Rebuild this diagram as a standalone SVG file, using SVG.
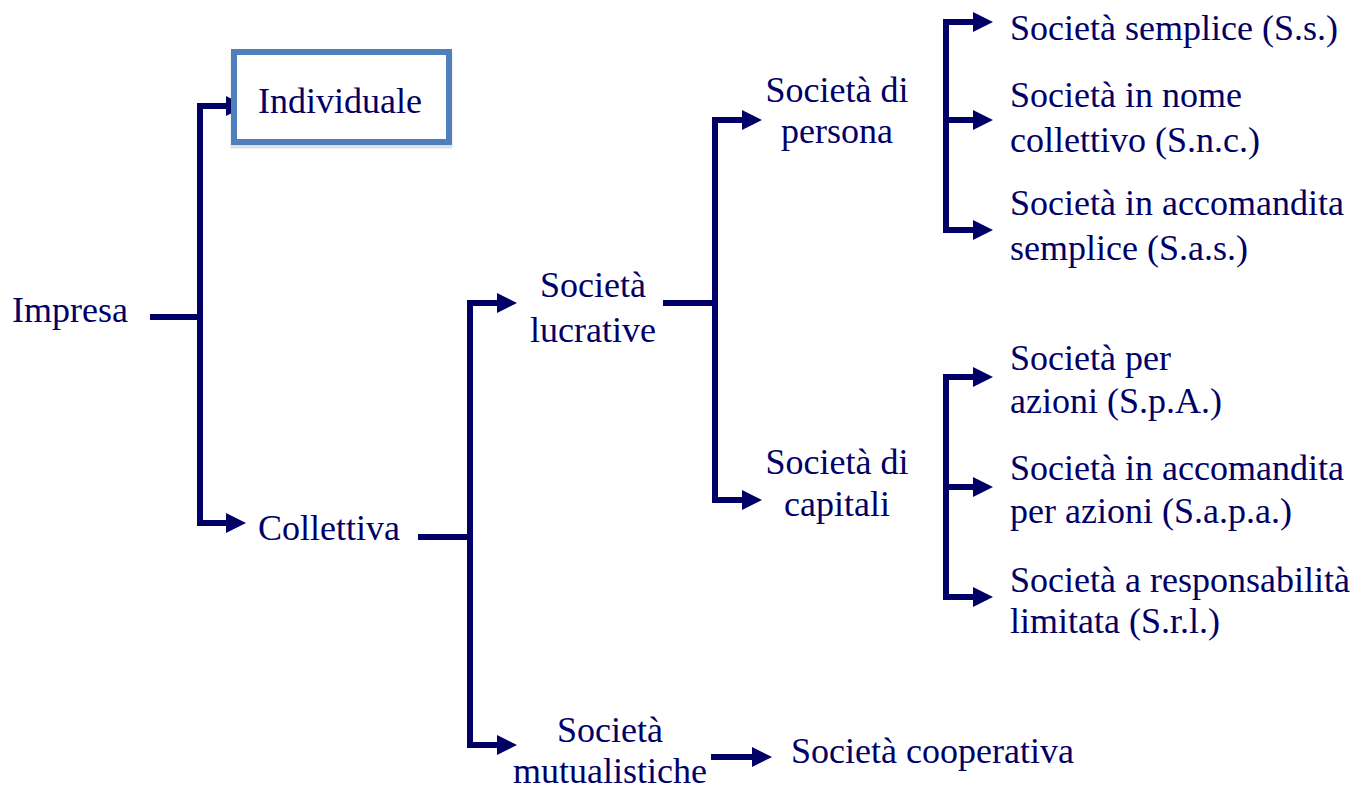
<svg xmlns="http://www.w3.org/2000/svg" width="1361" height="789" viewBox="0 0 1361 789">
  <style>
    .wire { fill: none; stroke: #000066; stroke-width: 6; stroke-linejoin: miter; }
    .tip { fill: #000066; }
  </style>
  <defs>
    <!-- right-pointing arrowhead, tip at the origin -->
    <path id="tipR" d="M-20,-10 L0,0 L-20,10 Z"/>
  </defs>
  <rect width="1361" height="789" fill="#ffffff"/>

  <!-- connectors -->
  <g id="connectors">
    <path class="wire" d="M150,317 H200"/>
    <path class="wire" d="M228,106 H200 V523 H228"/>
    <path class="wire" d="M418,537 H470"/>
    <path class="wire" d="M499,303 H470 V745 H499"/>
    <path class="wire" d="M663,303 H715"/>
    <path class="wire" d="M744,120 H715 V500 H744"/>
    <path class="wire" d="M975,22 H946 V230 H975"/>
    <path class="wire" d="M946,120 H975"/>
    <path class="wire" d="M975,377 H946 V597 H975"/>
    <path class="wire" d="M946,487 H975"/>
    <path class="wire" d="M711,757 H754"/>
    <use href="#tipR" class="tip" x="246" y="106"/>
    <use href="#tipR" class="tip" x="246" y="523"/>
    <use href="#tipR" class="tip" x="517" y="303"/>
    <use href="#tipR" class="tip" x="517" y="745"/>
    <use href="#tipR" class="tip" x="762" y="120"/>
    <use href="#tipR" class="tip" x="762" y="500"/>
    <use href="#tipR" class="tip" x="993" y="22"/>
    <use href="#tipR" class="tip" x="993" y="120"/>
    <use href="#tipR" class="tip" x="993" y="230"/>
    <use href="#tipR" class="tip" x="993" y="377"/>
    <use href="#tipR" class="tip" x="993" y="487"/>
    <use href="#tipR" class="tip" x="993" y="597"/>
    <use href="#tipR" class="tip" x="772" y="757"/>
  </g>

  <g id="individuale-box">
    <!-- soft shadow under the highlighted box -->
    <rect x="234" y="55" width="215" height="90" fill="none" stroke="#000000" stroke-opacity="0.12" stroke-width="7"/>
    <rect x="234" y="52" width="215" height="90" fill="#ffffff" stroke="#4f7fbc" stroke-width="6"/>
  </g>

  <text id="impresa" font-family="Liberation Serif" font-size="36" fill="#000066" x="12" y="322">Impresa</text>
  <text id="individuale" font-family="Liberation Serif" font-size="36" fill="#000066" x="258" y="113">Individuale</text>
  <text id="collettiva" font-family="Liberation Serif" font-size="36" fill="#000066" x="258" y="540">Collettiva</text>
  <text id="lucrative" font-family="Liberation Serif" font-size="36" fill="#000066" text-anchor="middle"><tspan x="593" y="297">Società</tspan><tspan x="593" y="342">lucrative</tspan></text>
  <text id="mutualistiche" font-family="Liberation Serif" font-size="36" fill="#000066" text-anchor="middle"><tspan x="610" y="742">Società</tspan><tspan x="610" y="783">mutualistiche</tspan></text>
  <text id="persona" font-family="Liberation Serif" font-size="36" fill="#000066" text-anchor="middle"><tspan x="837" y="102">Società di</tspan><tspan x="837" y="143">persona</tspan></text>
  <text id="capitali" font-family="Liberation Serif" font-size="36" fill="#000066" text-anchor="middle"><tspan x="837" y="474">Società di</tspan><tspan x="837" y="516">capitali</tspan></text>
  <text id="ss" font-family="Liberation Serif" font-size="36" fill="#000066" x="1010" y="40">Società semplice (S.s.)</text>
  <text id="snc" font-family="Liberation Serif" font-size="36" fill="#000066"><tspan x="1010" y="107">Società in nome</tspan><tspan x="1010" y="152">collettivo (S.n.c.)</tspan></text>
  <text id="sas" font-family="Liberation Serif" font-size="36" fill="#000066"><tspan x="1010" y="215">Società in accomandita</tspan><tspan x="1010" y="260">semplice (S.a.s.)</tspan></text>
  <text id="spa" font-family="Liberation Serif" font-size="36" fill="#000066"><tspan x="1010" y="370">Società per</tspan><tspan x="1010" y="413">azioni (S.p.A.)</tspan></text>
  <text id="sapa" font-family="Liberation Serif" font-size="36" fill="#000066"><tspan x="1010" y="480">Società in accomandita</tspan><tspan x="1010" y="523">per azioni (S.a.p.a.)</tspan></text>
  <text id="srl" font-family="Liberation Serif" font-size="36" fill="#000066"><tspan x="1010" y="592">Società a responsabilità</tspan><tspan x="1010" y="633">limitata (S.r.l.)</tspan></text>
  <text id="cooperativa" font-family="Liberation Serif" font-size="36" fill="#000066" x="791" y="763">Società cooperativa</text>
</svg>
